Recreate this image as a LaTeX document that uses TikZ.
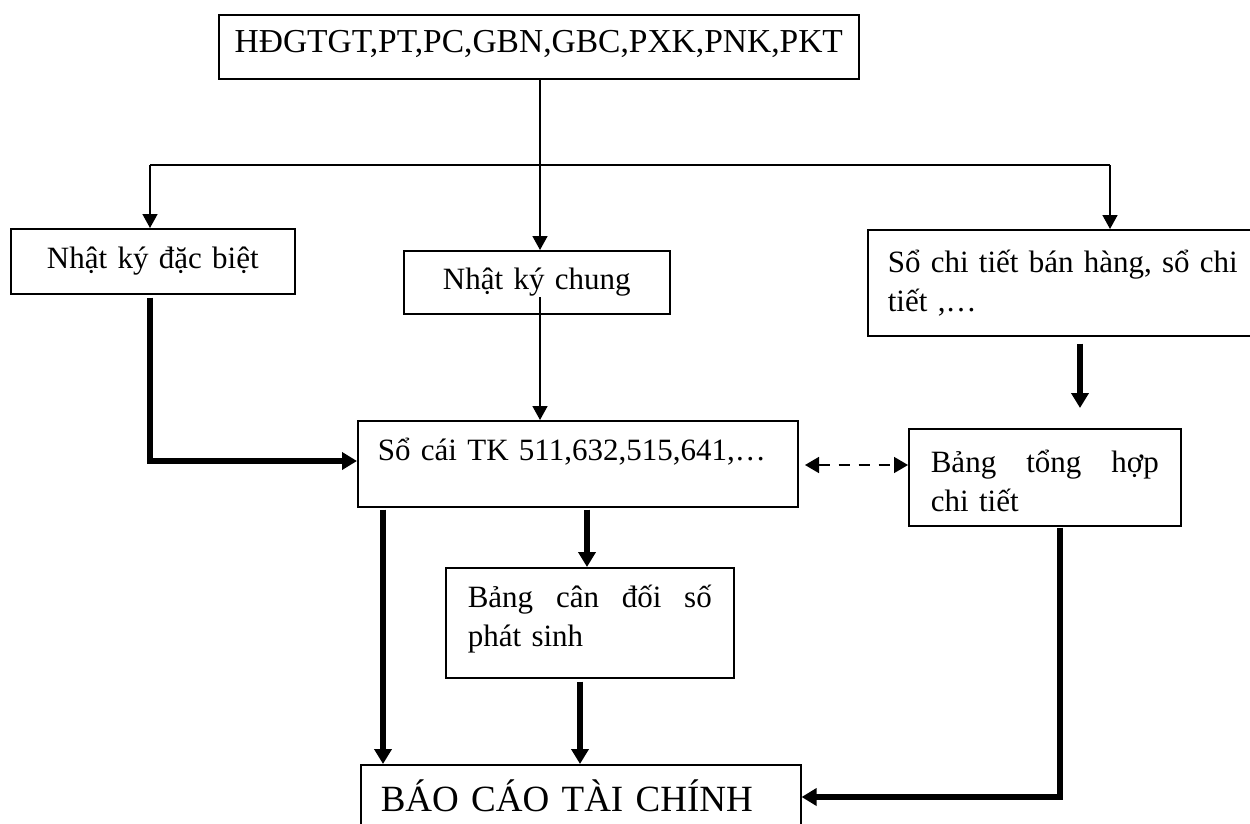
\documentclass[tikz,border=0pt]{standalone}
\usepackage{fontspec}
\setmainfont{Liberation Serif}
\usetikzlibrary{arrows.meta}
\begin{document}
\begin{tikzpicture}[x=1pt,y=1pt,
  box/.style={draw, line width=1.6pt, inner xsep=0pt, inner ysep=0pt,
    anchor=north west, font=\fontsize{31}{39}\selectfont},
  leftbox/.style={box, inner xsep=#1, align=left},
  thinarrow/.style={line width=1.6pt, -{Triangle[length=14pt,width=15pt]}},
  thickarrow/.style={line width=6pt, -{Triangle[length=15pt,width=17pt]}},
  dasharrow/.style={line width=1.6pt, dash pattern=on 11pt off 9pt,
    {Triangle[length=14pt,width=16pt]}-{Triangle[length=14pt,width=16pt]}}]
\useasboundingbox[fill=white] (0,0) rectangle (1250,-824);

% boxes
\node[box, text width=640pt, align=center, text height=38pt, text depth=26pt,
  font=\fontsize{33.5}{39}\selectfont]
  (src) at (218,-14) {HĐGTGT,PT,PC,GBN,GBC,PXK,PNK,PKT};
\node[box, text width=284pt, align=center, text height=40pt, text depth=25pt]
  (nkdb) at (10,-228) {Nhật ký đặc biệt};
\node[box, text width=266pt, align=center, text height=39pt, text depth=24pt]
  (nkc) at (403,-250) {Nhật ký chung};
\node[leftbox=20pt, text width=353pt, text height=43pt, text depth=63pt]
  (sct) at (867,-229)
  {\makebox[350pt][l]{Sổ\hfill chi\hfill tiết\hfill bán\hfill hàng,\hfill sổ\hfill chi}\\tiết ,…};
\node[leftbox=20pt, text width=400pt, text height=40pt, text depth=46pt]
  (sc) at (357,-420) {\makebox[400pt][l]{Sổ cái TK 511,632,515,641,…}};
\node[leftbox=22pt, text width=228pt, text height=44pt, text depth=53pt]
  (bth) at (908,-428) {\makebox[228pt][l]{Bảng\hfill tổng\hfill hợp}\\chi tiết};
\node[leftbox=22pt, text width=244pt, text height=40pt, text depth=70pt]
  (bcd) at (445,-567) {\makebox[244pt][l]{Bảng\hfill cân\hfill đối\hfill số}\\phát sinh};
\node[leftbox=20pt, text width=400pt, text height=47pt, text depth=29pt,
  font=\fontsize{37}{44}\selectfont]
  (bc) at (360,-764) {BÁO CÁO TÀI CHÍNH};

% distribution from the source documents
\coordinate (jn) at (540,-165);
\coordinate (jl) at (150,-165);
\coordinate (jr) at (1110,-165);
\draw[thinarrow] (src.south -| jn) -- (nkc.north -| jn);
\draw[line width=1.6pt] (jl) -- (jr);
\draw[thinarrow] (jl) -- (nkdb.north -| jl);
\draw[thinarrow] (jr) -- (sct.north -| jr);

% journals to ledger
\coordinate (nkcin) at (540,-297);
\draw[thinarrow] (nkcin) -- (sc.north -| nkcin);
\coordinate (bendL) at (150,-461);
\draw[thickarrow] ([yshift=-3pt]nkdb.south -| bendL) -- (bendL) -- (bendL -| sc.west);

% detail books
\coordinate (sctarrow) at (1080,-408);
\draw[thickarrow] ([yshift=-7pt]sct.south -| sctarrow) -- (sctarrow);
\coordinate (dashL) at (805,-465);
\draw[dasharrow] (dashL) -- (dashL -| bth.west);

% towards the financial report
\coordinate (c1) at (383,0);
\coordinate (c2) at (587,0);
\coordinate (c3) at (580,0);
\draw[thickarrow] ([yshift=-2pt]sc.south -| c1) -- (bc.north -| c1);
\draw[thickarrow] ([yshift=-2pt]sc.south -| c2) -- (bcd.north -| c2);
\draw[thickarrow] ([yshift=-3pt]bcd.south -| c3) -- (bc.north -| c3);
\coordinate (bendR) at (1060,-797);
\draw[thickarrow] ([yshift=-1pt]bth.south -| bendR) -- (bendR) -- (bendR -| bc.east);
\end{tikzpicture}
\end{document}
